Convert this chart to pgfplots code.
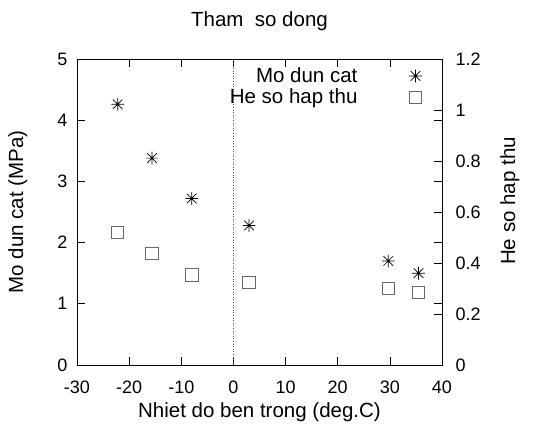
\documentclass[border=0pt]{standalone}
\usepackage{fontspec}
\setmainfont{Liberation Sans}
\usepackage{pgfplots}
\pgfplotsset{compat=1.18}

% gnuplot-like star: plus and cross with a dot in the middle
\pgfdeclareplotmark{gstar}{%
  \pgfpathmoveto{\pgfqpoint{0pt}{\pgfplotmarksize}}%
  \pgfpathlineto{\pgfqpoint{0pt}{-\pgfplotmarksize}}%
  \pgfpathmoveto{\pgfqpoint{\pgfplotmarksize}{0pt}}%
  \pgfpathlineto{\pgfqpoint{-\pgfplotmarksize}{0pt}}%
  \pgfpathmoveto{\pgfqpoint{0.75\pgfplotmarksize}{0.75\pgfplotmarksize}}%
  \pgfpathlineto{\pgfqpoint{-0.75\pgfplotmarksize}{-0.75\pgfplotmarksize}}%
  \pgfpathmoveto{\pgfqpoint{-0.75\pgfplotmarksize}{0.75\pgfplotmarksize}}%
  \pgfpathlineto{\pgfqpoint{0.75\pgfplotmarksize}{-0.75\pgfplotmarksize}}%
  \pgfusepathqstroke
  \pgfpathcircle{\pgfpointorigin}{1pt}\pgfusepathqfill
}

\begin{document}
\begin{tikzpicture}
\path[use as bounding box] (-77pt,-65pt) rectangle (472pt,365pt);
\pgfplotsset{
  every axis/.append style={
    at={(0pt,0pt)}, anchor=south west, scale only axis,
    width=365pt, height=306pt,
    xmin=-30, xmax=40,
    major tick length=8pt,
    tick style={black, line width=0.6pt},
    axis line style={black, line width=0.8pt},
    tick label style={font=\fontsize{18}{21}\selectfont},
    label style={font=\fontsize{20.5}{24}\selectfont},
    /pgf/number format/assume math mode=true,
  },
}
\begin{axis}[
    ymin=0, ymax=5,
    xtick={-30,-20,-10,0,10,20,30,40},
    ytick={0,1,2,3,4,5},
    tick align=inside,
    xtick pos=both, ytick pos=both,
    xticklabel pos=bottom, yticklabel pos=left,
    xticklabel style={yshift=-12pt},
    yticklabel style={xshift=-6pt},
    title={Tham\ \ so dong},
    title style={at={(rel axis cs:0.5,1.105)}, anchor=center,
      font=\fontsize{20.5}{24}\selectfont},
    xlabel={Nhiet do ben trong (deg.C)},
    xlabel style={at={(rel axis cs:0.5,-0.154)}, anchor=center},
    ylabel={Mo dun cat (MPa)},
    ylabel style={at={(rel axis cs:-0.162,0.5)}, anchor=center},
  ]
  \addplot[black!70, dotted, line width=0.6pt, forget plot]
    coordinates {(0,0) (0,5)};
  \addplot[only marks, mark=gstar, mark size=6.4pt, line width=0.7pt, black]
    coordinates {(-22.2,4.26) (-15.6,3.38) (-8,2.72) (3,2.28) (29.7,1.70) (35.5,1.50)};
\end{axis}
\begin{axis}[
    ymin=0, ymax=1.2,
    ytick={0,0.2,0.4,0.6,0.8,1,1.2},
    axis y line*=right, axis x line=none,
    tick align=inside,
    yticklabel style={xshift=10pt},
    ylabel={He so hap thu},
    ylabel style={at={(rel axis cs:1.186,0.536)}, anchor=center},
    legend plot pos=right, legend cell align=right,
    legend image code/.code={
      \path[draw=none] (0pt,0pt) (64pt,0pt);
      \draw[#1] plot[only marks] coordinates {(56pt,0pt)};
    },
    legend style={draw=none, fill=none, at={(rel axis cs:0.958,0.985)},
      anchor=north east, row sep=1pt, font=\fontsize{20.5}{24}\selectfont},
  ]
  \addlegendimage{only marks, mark=gstar, mark size=6.4pt, line width=0.7pt, black}
  \addlegendentry{Mo dun cat}
  \addplot[only marks, mark=square, mark size=6.2pt, line width=0.8pt, black!60]
    coordinates {(-22.2,0.519) (-15.6,0.437) (-8,0.353) (3,0.324) (29.7,0.300) (35.5,0.285)};
  \addlegendentry{He so hap thu}
\end{axis}
\end{tikzpicture}
\end{document}
